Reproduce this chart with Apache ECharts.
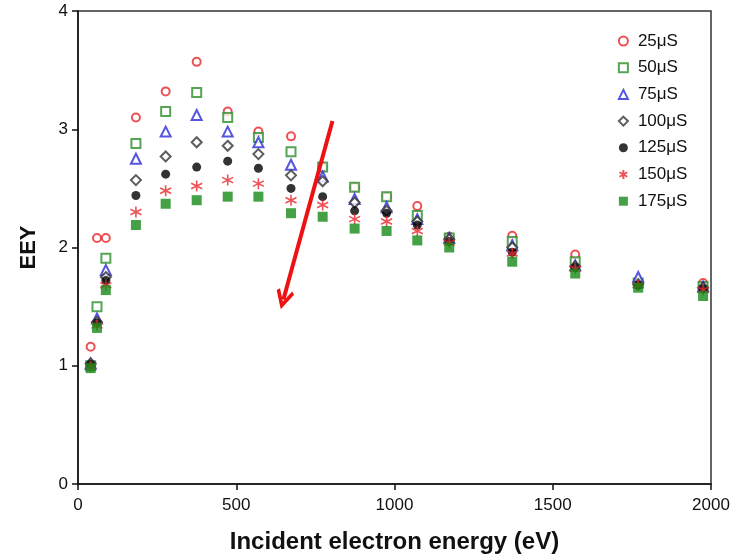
<!DOCTYPE html>
<html>
<head>
<meta charset="utf-8">
<script src="https://cdn.jsdelivr.net/npm/echarts@6/dist/echarts.min.js"></script>
<style>html,body{margin:0;padding:0;background:#fff;}#c{width:747px;height:559px;}</style>
</head>
<body>
<div id="c"></div>
<script>
// energies (eV) for the common series
var energies = [40, 60, 88, 183, 277, 375, 473, 570, 673, 773, 874, 975, 1072, 1173, 1372, 1571, 1770, 1975];
var s25  = [1.16, 2.08, 2.08, 3.10, 3.32, 3.57, 3.15, 2.98, 2.94, 2.68, 2.51, 2.43, 2.35, 2.09, 2.10, 1.94, 1.70, 1.70];
var s50  = [1.00, 1.50, 1.91, 2.88, 3.15, 3.31, 3.10, 2.93, 2.81, 2.68, 2.51, 2.43, 2.27, 2.08, 2.05, 1.88, 1.70, 1.67];
var s75  = [1.02, 1.40, 1.81, 2.75, 2.98, 3.12, 2.98, 2.89, 2.70, 2.60, 2.41, 2.34, 2.24, 2.08, 2.02, 1.85, 1.75, 1.67];
var s100 = [1.02, 1.37, 1.75, 2.57, 2.77, 2.89, 2.86, 2.79, 2.61, 2.56, 2.38, 2.31, 2.22, 2.07, 2.00, 1.84, 1.69, 1.66];
var s125 = [1.01, 1.36, 1.72, 2.44, 2.62, 2.68, 2.73, 2.67, 2.50, 2.43, 2.31, 2.29, 2.19, 2.05, 1.96, 1.83, 1.68, 1.65];
var s150 = [0.99, 1.34, 1.68, 2.30, 2.48, 2.52, 2.57, 2.54, 2.40, 2.36, 2.24, 2.22, 2.14, 2.04, 1.95, 1.82, 1.68, 1.64];
var s175 = [0.98, 1.32, 1.64, 2.19, 2.37, 2.40, 2.43, 2.43, 2.29, 2.26, 2.16, 2.14, 2.06, 2.00, 1.88, 1.78, 1.66, 1.59];
var seriesNames = ['25\u03bcS', '50\u03bcS', '75\u03bcS', '100\u03bcS', '125\u03bcS', '150\u03bcS', '175\u03bcS'];
var xTicks = [0, 500, 1000, 1500, 2000];
var yTicks = [0, 1, 2, 3, 4];
// arrow annotation (data coordinates)
var arrowStart = [804, 3.07];
var arrowEnd = [649, 1.56];

var values = [s25, s50, s75, s100, s125, s150, s175];
var starPath = 'path://M0,-10L0,10M-8.66,-5L8.66,5M-8.66,5L8.66,-5';
var styles = [
  {symbol: 'emptyCircle', size: 8, color: '#e8262a', fill: false},
  {symbol: 'emptyRect', size: 9, color: '#2a8f2a', fill: false},
  {symbol: 'emptyTriangle', size: 10, color: '#2b2bd8', fill: false},
  {symbol: 'emptyDiamond', size: 10, color: '#333333', fill: false},
  {symbol: 'circle', size: 9, color: '#000000', fill: true},
  {symbol: starPath, size: 11, color: '#e8262a', star: true},
  {symbol: 'rect', size: 10, color: '#178a17', fill: true}
];

var series = values.map(function (vals, i) {
  var st = styles[i];
  return {
    name: seriesNames[i],
    type: 'scatter',
    symbol: st.symbol,
    symbolSize: st.size,
    data: energies.map(function (e, j) { return [e, vals[j]]; }),
    itemStyle: st.star ? {color: 'none', borderColor: st.color, borderWidth: 1.6}
      : (st.fill ? {color: st.color} : {color: st.color, borderWidth: 1.6}),
    emphasis: {disabled: true}
  };
});
series[6].markLine = {
  silent: true,
  animation: false,
  symbolSize: [18, 20],
  lineStyle: {color: '#ee1111', width: 4, type: 'solid'},
  label: {show: false},
  data: [[
    {coord: arrowStart, symbol: 'none'},
    {coord: arrowEnd, symbol: 'path://M0,0L10,13L7,15L0,6L-7,15L-10,13Z'}
  ]]
};

var chart = echarts.init(document.getElementById('c'), null, {renderer: 'canvas'});
chart.setOption({
  animation: false,
  backgroundColor: '#fff',
  textStyle: {fontFamily: 'Liberation Sans, Arial, sans-serif'},
  grid: {left: 78, right: 36, top: 11, bottom: 73, show: true, borderColor: '#333', borderWidth: 1.5, backgroundColor: 'transparent'},
  legend: {
    orient: 'vertical',
    left: 612,
    top: 27,
    itemGap: 8.7,
    itemWidth: 9,
    itemHeight: 9,
    textStyle: {fontSize: 17, lineHeight: 18, color: '#111', fontFamily: 'Liberation Sans, Arial, sans-serif', padding: [0, 0, 0, 5]},
    data: seriesNames.map(function (n, i) {
      return {name: n, icon: styles[i].symbol};
    })
  },
  xAxis: {
    type: 'value',
    min: 0, max: 2000, interval: 500,
    name: 'Incident electron energy (eV)',
    nameLocation: 'middle',
    nameGap: 46,
    nameTextStyle: {fontSize: 24, fontWeight: 'bold', color: '#111'},
    axisLine: {show: true, lineStyle: {color: '#111', width: 1.5}},
    axisTick: {show: true, inside: false, length: 6, lineStyle: {color: '#111', width: 1.5}},
    axisLabel: {fontSize: 17, color: '#111', margin: 13, customValues: xTicks,
      formatter: function (v) { return String(v); }},
    splitLine: {show: false}
  },
  yAxis: {
    type: 'value',
    min: 0, max: 4, interval: 1,
    name: 'EEY',
    nameLocation: 'middle',
    nameGap: 38,
    nameRotate: 90,
    nameTextStyle: {fontSize: 22, fontWeight: 'bold', color: '#111'},
    axisLine: {show: true, lineStyle: {color: '#111', width: 1.5}},
    axisTick: {show: true, inside: false, length: 6, lineStyle: {color: '#111', width: 1.5}},
    axisLabel: {fontSize: 17, color: '#111', margin: 10, customValues: yTicks},
    splitLine: {show: false}
  },
  series: series
});
</script>
</body>
</html>
